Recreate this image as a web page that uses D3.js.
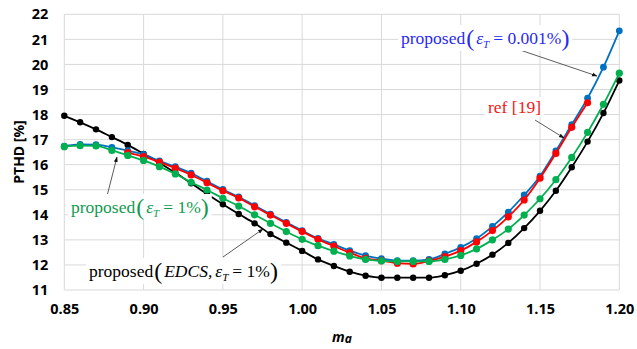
<!DOCTYPE html>
<html>
<head>
<meta charset="utf-8">
<script src="https://cdn.jsdelivr.net/npm/d3@7/dist/d3.min.js"></script>
<style>
  html, body { margin: 0; padding: 0; background: #fff; }
  svg { display: block; }
</style>
</head>
<body>
<svg id="chart" width="637" height="349"></svg>
<script>
// Modulation index values (x axis)
const ma = [0.85, 0.86, 0.87, 0.88, 0.89, 0.90, 0.91, 0.92, 0.93, 0.94,
            0.95, 0.96, 0.97, 0.98, 0.99, 1.00, 1.01, 1.02, 1.03, 1.04,
            1.05, 1.06, 1.07, 1.08, 1.09, 1.10, 1.11, 1.12, 1.13, 1.14,
            1.15, 1.16, 1.17, 1.18, 1.19, 1.20];

// PTHD [%] for each method
const proposedEdcs = [17.95, 17.69, 17.41, 17.10, 16.79, 16.43, 16.07, 15.68, 15.26, 14.83,
                      14.42, 14.03, 13.66, 13.23, 12.89, 12.56, 12.22, 11.96, 11.73, 11.57,
                      11.49, 11.49, 11.49, 11.49, 11.59, 11.77, 12.05, 12.41, 12.88, 13.47,
                      14.16, 14.96, 15.90, 16.92, 18.06, 19.36];
const proposed1 = [16.72, 16.76, 16.75, 16.57, 16.37, 16.17, 15.92, 15.63, 15.30, 14.99,
                   14.66, 14.35, 14.00, 13.66, 13.33, 13.02, 12.77, 12.55, 12.36, 12.22,
                   12.16, 12.14, 12.14, 12.14, 12.22, 12.38, 12.64, 13.00, 13.43, 13.99,
                   14.64, 15.40, 16.29, 17.29, 18.41, 19.65];
const proposed0001 = [16.74, 16.81, 16.80, 16.69, 16.56, 16.41, 16.15, 15.92, 15.66, 15.34,
                      15.01, 14.71, 14.37, 14.03, 13.70, 13.37, 13.06, 12.82, 12.57, 12.37,
                      12.25, 12.17, 12.17, 12.22, 12.44, 12.70, 13.05, 13.54, 14.11, 14.79,
                      15.54, 16.55, 17.60, 18.65, 19.89, 21.34];
const ref19 = [null, null, null, null, 16.48, 16.32, 16.10, 15.86, 15.59, 15.28,
               14.96, 14.67, 14.32, 13.99, 13.66, 13.33, 13.02, 12.75, 12.49, 12.26,
               12.17, 12.07, 12.04, 12.16, 12.33, 12.57, 12.92, 13.37, 13.92, 14.59,
               15.46, 16.45, 17.49, 18.47, null, null];

const xTicks = [0.85, 0.90, 0.95, 1.00, 1.05, 1.10, 1.15, 1.20];
const yTicks = [11, 12, 13, 14, 15, 16, 17, 18, 19, 20, 21, 22];

const svg = d3.select("#chart");
const x = d3.scaleLinear().domain([0.85, 1.20]).range([64.3, 619.3]);
const y = d3.scaleLinear().domain([11, 22]).range([290, 14.3]);

// Grid
const grid = svg.append("g");
grid.selectAll("line.h").data(yTicks).join("line")
  .attr("x1", x(0.85)).attr("x2", x(1.20))
  .attr("y1", d => y(d)).attr("y2", d => y(d))
  .attr("stroke", "#d9d9d9").attr("stroke-width", 1);
grid.selectAll("line.v").data(xTicks).join("line")
  .attr("y1", y(11)).attr("y2", y(22))
  .attr("x1", d => x(d)).attr("x2", d => x(d))
  .attr("stroke", "#d9d9d9").attr("stroke-width", 1);

// Axes (labels only; grid supplies the lines)
const tickFont = "'Open Sans', 'Liberation Sans', sans-serif";
const yAxis = svg.append("g").attr("transform", `translate(${x(0.85)},0)`)
  .call(d3.axisLeft(y).tickValues(yTicks).tickSize(0).tickPadding(16).tickFormat(d3.format("d")));
const xAxis = svg.append("g").attr("transform", `translate(0,${y(11)})`)
  .call(d3.axisBottom(x).tickValues(xTicks).tickSize(0).tickPadding(14).tickFormat(d3.format(".2f")));
[xAxis, yAxis].forEach(a => {
  a.select(".domain").remove();
  a.selectAll("text").attr("font-family", tickFont).attr("font-weight", "bold")
    .attr("font-size", "14.5px").attr("fill", "#000");
});

// Axis titles
svg.append("text")
  .attr("transform", `translate(24,152) rotate(-90)`)
  .attr("text-anchor", "middle")
  .attr("font-family", tickFont).attr("font-weight", "bold").attr("font-size", "14px")
  .text("PTHD [%]");
const xt = svg.append("text")
  .attr("x", 332).attr("y", 342)
  .attr("font-family", tickFont).attr("font-weight", "bold").attr("font-style", "italic")
  .attr("font-size", "14px");
xt.append("tspan").text("m");
xt.append("tspan").attr("font-size", "12px").attr("dy", 1).text("a");

// Series
const series = [
  { name: "edcs", values: proposedEdcs, color: "#000000", r: 3.2 },
  { name: "p0001", values: proposed0001, color: "#0070C0", r: 3.4 },
  { name: "ref", values: ref19, color: "#FF0000", r: 3.6 },
  { name: "p1", values: proposed1, color: "#00B050", r: 3.6 }
];
const line = d3.line()
  .defined(d => d[1] != null)
  .x(d => x(d[0])).y(d => y(d[1]))
  .curve(d3.curveMonotoneX);

series.forEach(s => {
  const pts = ma.map((m, i) => [m, s.values[i]]).filter(d => d[1] != null);
  const g = svg.append("g");
  g.append("path").datum(pts)
    .attr("d", line).attr("fill", "none")
    .attr("stroke", s.color).attr("stroke-width", 1.8);
  g.selectAll("circle").data(pts).join("circle")
    .attr("cx", d => x(d[0])).attr("cy", d => y(d[1]))
    .attr("r", s.r).attr("fill", s.color);
});

// Arrows
svg.append("defs").append("marker")
  .attr("id", "ah").attr("viewBox", "0 0 10 10").attr("refX", 9).attr("refY", 5)
  .attr("markerWidth", 7).attr("markerHeight", 7).attr("orient", "auto")
  .append("path").attr("d", "M0,1.5 L10,5 L0,8.5 Z").attr("fill", "#111");

const arrows = [
  [520, 50, 597, 76],
  [535, 120, 564, 138],
  [106, 200, 117, 157],
  [223, 257, 263, 229]
];
svg.append("g").selectAll("line").data(arrows).join("line")
  .attr("x1", d => d[0]).attr("y1", d => d[1])
  .attr("x2", d => d[2]).attr("y2", d => d[3])
  .attr("stroke", "#333").attr("stroke-width", 0.8)
  .attr("marker-end", "url(#ah)");

// Labels: roman text, large parentheses, italic epsilon with subscript T
const serif = "'Liberation Serif', 'Times New Roman', serif";
function mathLabel(px, py, color, pre, inner, post) {
  const g = svg.append("g");
  const bg = g.append("rect").attr("fill", "#fff");
  const t = g.append("text").attr("x", px).attr("y", py)
    .attr("font-family", serif).attr("font-size", "17.5px").attr("fill", color);
  t.append("tspan").text("proposed");
  t.append("tspan").attr("font-size", "24px").attr("dx", 1).attr("dy", 2).text("(");
  let first = true;
  if (pre) {
    t.append("tspan").attr("font-style", "italic").attr("dx", 2).attr("dy", -2).text(pre);
    first = false;
  }
  t.append("tspan").attr("font-style", "italic").attr("dx", first ? 2 : 3).attr("dy", first ? -2 : 0).text("ε");
  t.append("tspan").attr("font-style", "italic").attr("font-size", "11px").attr("dy", 4).text("T");
  t.append("tspan").attr("dx", 4).attr("dy", -4).text("= " + inner);
  t.append("tspan").attr("font-size", "24px").attr("dx", 0).attr("dy", 2).text(")");
  const b = t.node().getBBox();
  bg.attr("x", b.x - 3).attr("y", b.y).attr("width", b.width + 6).attr("height", b.height);
}
function plainLabel(px, py, color, txt) {
  const g = svg.append("g");
  const bg = g.append("rect").attr("fill", "#fff");
  const t = g.append("text").attr("x", px).attr("y", py)
    .attr("font-family", serif).attr("font-size", "17.5px").attr("fill", color).text(txt);
  const b = t.node().getBBox();
  bg.attr("x", b.x - 3).attr("y", b.y).attr("width", b.width + 6).attr("height", b.height);
}

mathLabel(401, 44, "#2A2AF0", null, "0.001%");
plainLabel(488, 113, "#F01818", "ref [19]");
mathLabel(71, 213, "#119A52", null, "1%");
mathLabel(89, 277, "#000", "EDCS,", "1%");
</script>
</body>
</html>
